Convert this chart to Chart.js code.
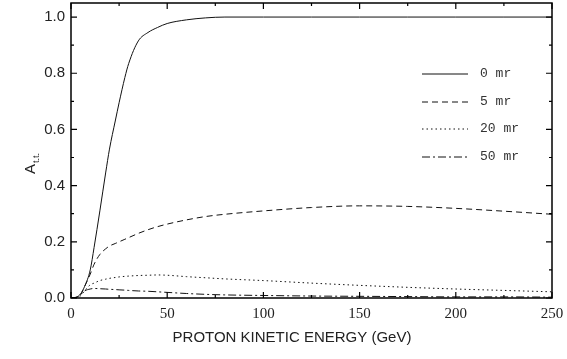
<!doctype html>
<html lang="en">
<head>
    <meta charset="UTF-8">
    <title>A t.t. vs proton kinetic energy</title>
    <style>
        * { margin: 0; padding: 0; box-sizing: border-box; }
        body { background: #fff; }
        canvas { display: block; }
    </style>
</head>
<body>
<canvas id="myChart" width="567" height="359"></canvas>

<script src="https://cdn.jsdelivr.net/npm/chart.js"></script>
<script>
    // energies (GeV) shared by all curves
    const energy = [0, 3, 5, 7, 10, 12, 15, 18, 20, 23, 25, 28, 30, 35, 40, 45, 50, 60, 70, 80, 100, 125, 150, 175, 200, 225, 250];

    const mr0  = [0, 0.003, 0.015, 0.04, 0.10, 0.18, 0.31, 0.445, 0.53, 0.63, 0.695, 0.785, 0.835, 0.915, 0.945, 0.963, 0.977, 0.99, 0.997, 1.0, 1.0, 1.0, 1.0, 1.0, 1.0, 1.0, 1.0];
    const mr5  = [0, 0.003, 0.012, 0.04, 0.085, 0.12, 0.155, 0.175, 0.185, 0.194, 0.2, 0.209, 0.215, 0.23, 0.243, 0.254, 0.263, 0.278, 0.29, 0.298, 0.31, 0.322, 0.328, 0.326, 0.319, 0.309, 0.298];
    const mr20 = [0, 0.002, 0.008, 0.025, 0.047, 0.053, 0.062, 0.067, 0.07, 0.073, 0.075, 0.077, 0.078, 0.08, 0.081, 0.082, 0.081, 0.076, 0.072, 0.068, 0.062, 0.053, 0.045, 0.038, 0.032, 0.027, 0.022];
    const mr50 = [0, 0.003, 0.012, 0.025, 0.032, 0.034, 0.033, 0.032, 0.031, 0.03, 0.029, 0.028, 0.027, 0.025, 0.024, 0.022, 0.02, 0.016, 0.013, 0.011, 0.009, 0.007, 0.006, 0.005, 0.004, 0.004, 0.003];

    const labels = ['0 mr', '5 mr', '20 mr', '50 mr'];
    const dashes = [[], [6, 4], [1.5, 3], [8, 3, 2, 3]];
    const yTicks = [0, 0.2, 0.4, 0.6, 0.8, 1.0];
    const xTitle = 'PROTON KINETIC ENERGY (GeV)';

    function pts(arr) {
        return energy.map((e, i) => ({ x: e, y: arr[i] }));
    }

    const series = [mr0, mr5, mr20, mr50];

    const data = {
        datasets: series.map((s, i) => ({
            label: labels[i],
            data: pts(s),
            borderColor: '#111',
            borderWidth: 1,
            borderDash: dashes[i],
            pointRadius: 0,
            cubicInterpolationMode: 'monotone',
            fill: false
        }))
    };

    const sans = '"Liberation Sans", Arial, sans-serif';

    // frame, inward ticks, axis titles and legend
    const decor = {
        id: 'decor',
        afterDraw(chart) {
            const ctx = chart.ctx;
            const a = chart.chartArea;
            const xs = chart.scales.x, ys = chart.scales.y;
            ctx.save();
            ctx.strokeStyle = '#000';
            ctx.lineWidth = 1.5;
            ctx.strokeRect(a.left, a.top, a.right - a.left, a.bottom - a.top);

            ctx.lineWidth = 1.2;
            ctx.beginPath();
            for (let v = 0; v <= 250; v += 25) {
                const px = xs.getPixelForValue(v);
                const len = v % 50 === 0 ? 6 : 3;
                ctx.moveTo(px, a.bottom); ctx.lineTo(px, a.bottom - len);
                ctx.moveTo(px, a.top); ctx.lineTo(px, a.top + len);
            }
            for (let k = 0; k <= 10; k++) {
                const py = ys.getPixelForValue(k / 10);
                const len = k % 2 === 0 ? 6 : 3;
                ctx.moveTo(a.left, py); ctx.lineTo(a.left + len, py);
                ctx.moveTo(a.right, py); ctx.lineTo(a.right - len, py);
            }
            ctx.stroke();

            // x title
            ctx.fillStyle = '#222';
            ctx.font = '15px ' + sans;
            ctx.textAlign = 'center';
            ctx.textBaseline = 'middle';
            ctx.fillText(xTitle, 292, 338);

            // y title: A with subscript t.t.
            ctx.translate(30, 160);
            ctx.rotate(-Math.PI / 2);
            ctx.textBaseline = 'alphabetic';
            ctx.textAlign = 'left';
            ctx.font = '15px ' + sans;
            ctx.fillText('A', -14, 5);
            ctx.font = '9px ' + sans;
            ctx.fillText('t.t.', -3, 9);
            ctx.restore();

            // legend
            ctx.save();
            ctx.strokeStyle = '#111';
            ctx.fillStyle = '#333';
            ctx.lineWidth = 1;
            ctx.font = '13px "Liberation Mono", "DejaVu Sans Mono", monospace';
            ctx.textBaseline = 'middle';
            const rows = [74, 102, 129, 157];
            labels.forEach((lab, i) => {
                ctx.setLineDash(dashes[i]);
                ctx.beginPath();
                ctx.moveTo(422, rows[i]);
                ctx.lineTo(468, rows[i]);
                ctx.stroke();
                ctx.setLineDash([]);
                ctx.fillText(lab, 480, rows[i]);
            });
            ctx.restore();
        }
    };

    const config = {
        type: 'line',
        data: data,
        options: {
            responsive: false,
            animation: false,
            layout: { padding: { top: 3, right: 15, left: 0, bottom: 0 } },
            plugins: { legend: { display: false }, tooltip: { enabled: false } },
            scales: {
                x: {
                    type: 'linear',
                    min: 0,
                    max: 250,
                    grid: { display: false, drawTicks: false },
                    border: { display: false },
                    ticks: {
                        stepSize: 50,
                        padding: 7,
                        color: '#222',
                        font: { family: '"Liberation Serif", "Times New Roman", serif', size: 15 }
                    },
                    afterFit(s) { s.height = 61; s.paddingRight = 0; s.paddingLeft = 0; }
                },
                y: {
                    min: 0,
                    max: 1.05,
                    grid: { display: false, drawTicks: false },
                    border: { display: false },
                    afterBuildTicks(s) { s.ticks = yTicks.map(v => ({ value: v })); },
                    ticks: {
                        padding: 6,
                        color: '#222',
                        font: { family: sans, size: 15 },
                        callback: v => v.toFixed(1)
                    },
                    afterFit(s) { s.width = 71; s.paddingTop = 0; s.paddingBottom = 0; }
                }
            }
        },
        plugins: [decor]
    };

    const myChart = new Chart(document.getElementById('myChart'), config);
</script>
</body>
</html>
